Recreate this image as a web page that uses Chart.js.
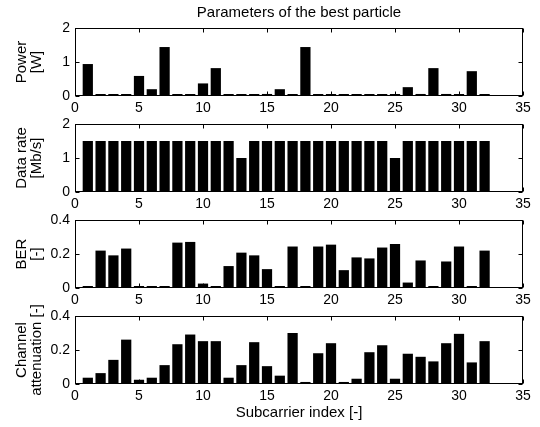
<!DOCTYPE html>
<html>
<head>
<meta charset="utf-8">
<script src="https://cdn.jsdelivr.net/npm/chart.js@4.4.0/dist/chart.umd.min.js"></script>
<style>
  body { margin: 0; background: #fff; }
  #wrap { position: relative; width: 540px; height: 427px; }
  canvas { position: absolute; left: 0; top: 0; }
</style>
</head>
<body>
<div id="wrap">
  <canvas id="c1" width="540" height="427"></canvas>
  <canvas id="c2" width="540" height="427"></canvas>
  <canvas id="c3" width="540" height="427"></canvas>
  <canvas id="c4" width="540" height="427"></canvas>
</div>
<script>
const subcarrier = [1,2,3,4,5,6,7,8,9,10,11,12,13,14,15,16,17,18,19,20,21,22,23,24,25,26,27,28,29,30,31,32]

const power = [0.94,0.02,0.02,0.02,0.59,0.20,1.44,0.02,0.02,0.37,0.82,0.02,0.02,0.02,0.06,0.20,
               0.02,1.44,0.02,0.02,0.02,0.02,0.05,0.02,0.02,0.26,0.06,0.82,0.06,0.02,0.73,0.02]
const dataRate = [1.5,1.5,1.5,1.5,1.5,1.5,1.5,1.5,1.5,1.5,1.5,1.5,1.0,1.5,1.5,1.5,
                  1.5,1.5,1.5,1.5,1.5,1.5,1.5,1.5,1.0,1.5,1.5,1.5,1.5,1.5,1.5,1.5]
const ber = [0.004,0.22,0.192,0.232,0.003,0.003,0.003,0.267,0.271,0.026,0.003,0.129,0.208,0.192,0.111,0.003,
             0.244,0.003,0.244,0.255,0.105,0.18,0.174,0.238,0.259,0.032,0.162,0.003,0.156,0.244,0.003,0.22]
const attenuation = [0.037,0.064,0.142,0.261,0.025,0.037,0.111,0.234,0.291,0.252,0.252,0.037,0.111,0.246,0.105,0.049,
                     0.30,0.012,0.181,0.24,0.012,0.031,0.187,0.228,0.031,0.178,0.16,0.133,0.24,0.295,0.127,0.252]

const xTicks = [0,5,10,15,20,25,30,35]
const yTicksBig = [0,1,2]
const yTicksSmall = [0,0.2,0.4]

Chart.defaults.font.family = "'Liberation Sans', Arial, sans-serif"
Chart.defaults.font.size = 14
Chart.defaults.color = '#000'

// box round the plot and the little inward ticks, like matlab
const frame = {
  id: 'frame',
  afterDraw(chart) {
    const ctx = chart.ctx
    const a = chart.chartArea
    const x = chart.scales.x, y = chart.scales.y
    const L = Math.round(a.left) + 0.5, R = Math.round(a.right) - 0.5
    const T = Math.round(a.top) + 0.5, B = Math.round(a.bottom) - 0.5
    ctx.save()
    ctx.strokeStyle = '#000'
    ctx.lineWidth = 1
    ctx.beginPath()
    x.ticks.forEach(t => {
      const px = Math.round(x.getPixelForValue(t.value)) + 0.5
      ctx.moveTo(px, B); ctx.lineTo(px, B - 4)
      ctx.moveTo(px, T); ctx.lineTo(px, T + 4)
    })
    y.ticks.forEach(t => {
      const py = Math.round(y.getPixelForValue(t.value)) + 0.5
      ctx.moveTo(L, py); ctx.lineTo(L + 4, py)
      ctx.moveTo(R, py); ctx.lineTo(R - 4, py)
    })
    ctx.stroke()
    ctx.strokeRect(L, T, R - L, B - T)
    ctx.restore()
  }
}

function makePanel(id, values, yTicks, yTitle, top, bottom, opts) {
  opts = opts || {}
  const scales = {
    x: {
      type: 'linear',
      min: 0, max: 35,
      offset: false,
      grid: { display: false, drawTicks: false, offset: false },
      border: { display: false },
      ticks: { autoSkip: false, maxRotation: 0, padding: 4 },
      afterBuildTicks: s => { s.ticks = xTicks.map(v => ({ value: v })) },
      afterFit: s => { s.height = 427 - bottom },
      title: {
        display: !!opts.xTitle,
        text: opts.xTitle || '',
        font: { size: 15 },
        padding: { top: 0, bottom: 5 }
      }
    },
    y: {
      min: yTicks[0], max: yTicks[yTicks.length - 1],
      grid: { display: false, drawTicks: false },
      border: { display: false },
      ticks: { padding: 5 },
      afterBuildTicks: s => { s.ticks = yTicks.map(v => ({ value: v })) },
      afterFit: s => { s.width = 75 },
      title: {
        display: true,
        text: yTitle,
        font: { size: 15, lineHeight: 0.95 },
        padding: { top: 15, bottom: 0 }
      }
    }
  }
  if (opts.title) {
    // empty top axis, only used to hold the figure title centred over the plot
    scales.top = {
      type: 'linear',
      position: 'top',
      min: 0, max: 35,
      grid: { display: false, drawTicks: false },
      border: { display: false },
      ticks: { display: false },
      afterFit: s => { s.height = top },
      title: {
        display: true,
        text: opts.title,
        font: { size: 15 },
        padding: { top: 4, bottom: 0 }
      }
    }
  }
  new Chart(document.getElementById(id), {
    type: 'bar',
    data: {
      labels: subcarrier,
      datasets: [{
        data: values,
        backgroundColor: '#000',
        borderWidth: 0,
        minBarLength: 2,
        barPercentage: 0.8,
        categoryPercentage: 1
      }]
    },
    options: {
      responsive: false,
      animation: false,
      layout: { padding: { left: 0, right: 17, top: opts.title ? 0 : top, bottom: 0 } },
      plugins: {
        legend: { display: false },
        tooltip: { enabled: false }
      },
      scales: scales
    },
    plugins: [frame]
  })
}

makePanel('c1', power, yTicksBig, ['Power', '[W]'], 28, 96, { title: 'Parameters of the best particle' })
makePanel('c2', dataRate, yTicksBig, ['Data rate', '[Mb/s]'], 124, 192)
makePanel('c3', ber, yTicksSmall, ['BER', '[-]'], 220, 288)
makePanel('c4', attenuation, yTicksSmall, ['Channel', 'attenuation [-]'], 316, 384, { xTitle: 'Subcarrier index [-]' })
</script>
</body>
</html>
